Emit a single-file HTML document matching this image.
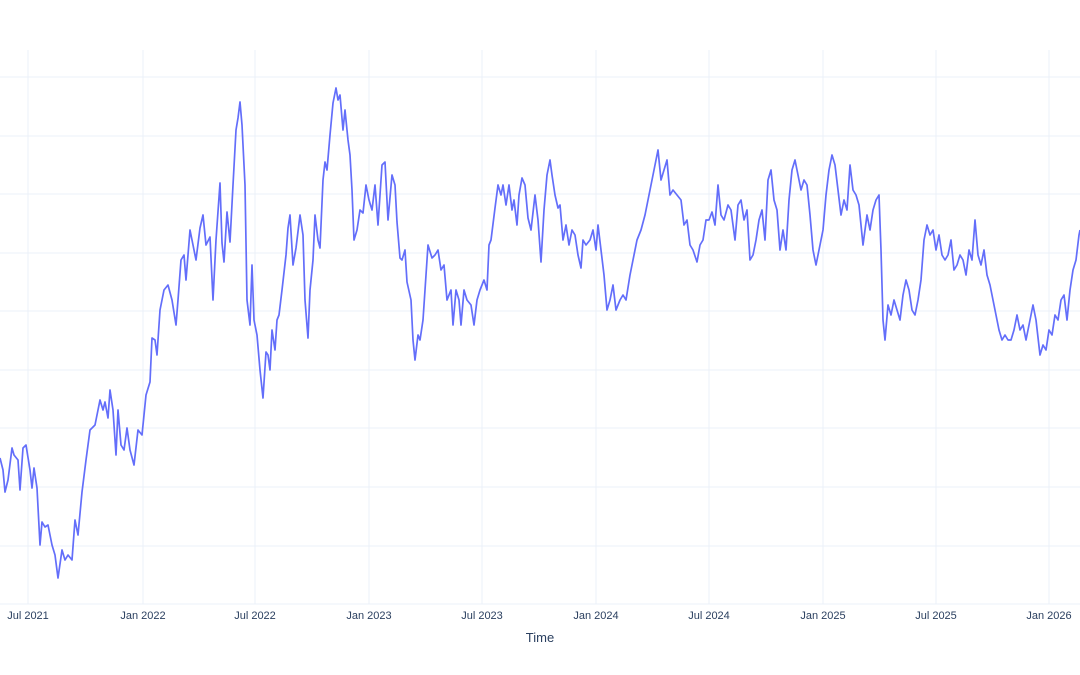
<!DOCTYPE html>
<html><head><meta charset="utf-8"><style>
html,body{margin:0;padding:0;background:#fff;}
svg{display:block;font-family:"Liberation Sans",sans-serif;}
</style></head><body>
<svg width="1080" height="675" viewBox="0 0 1080 675">
<rect width="1080" height="675" fill="#fff"/>
<g stroke="#ebf0f8" stroke-width="1">
<line x1="0" x2="1080" y1="77" y2="77"/><line x1="0" x2="1080" y1="136" y2="136"/>
<line x1="0" x2="1080" y1="194" y2="194"/><line x1="0" x2="1080" y1="253" y2="253"/>
<line x1="0" x2="1080" y1="311" y2="311"/><line x1="0" x2="1080" y1="370" y2="370"/>
<line x1="0" x2="1080" y1="428" y2="428"/><line x1="0" x2="1080" y1="487" y2="487"/>
<line x1="0" x2="1080" y1="546" y2="546"/><line x1="0" x2="1080" y1="604" y2="604"/>
<line y1="50" y2="604" x1="28" x2="28"/><line y1="50" y2="604" x1="143" x2="143"/>
<line y1="50" y2="604" x1="255" x2="255"/><line y1="50" y2="604" x1="369" x2="369"/>
<line y1="50" y2="604" x1="482" x2="482"/><line y1="50" y2="604" x1="596" x2="596"/>
<line y1="50" y2="604" x1="709" x2="709"/><line y1="50" y2="604" x1="823" x2="823"/>
<line y1="50" y2="604" x1="936" x2="936"/><line y1="50" y2="604" x1="1049" x2="1049"/>
</g>
<polyline fill="none" stroke="#636efa" stroke-width="1.7" stroke-linejoin="round" points="0,458 3,470 5,492 8,480 12,448 14,455 18,460 20,490 23,448 26,445 30,470 32,488 34,468 37,488 40,545 42,522 45,527 48,525 52,545 55,555 58,578 62,550 65,560 68,555 72,560 75,520 78,535 82,492 86,460 90,430 95,425 100,400 103,410 105,402 108,418 110,390 113,410 116,455 118,410 121,445 124,450 127,428 130,450 134,465 138,430 142,435 146,395 150,382 152,338 155,340 157,355 160,310 164,290 168,285 172,300 176,325 178,300 181,260 184,255 186,280 190,230 193,245 196,260 200,228 203,215 206,245 210,237 213,300 216,240 220,183 222,243 224,262 227,212 230,242 233,185 236,130 238,118 240,102 242,125 245,185 247,300 250,325 252,265 254,320 257,335 260,370 263,398 266,352 268,355 270,370 272,330 275,350 277,320 279,315 282,290 286,255 288,228 290,215 293,265 296,248 300,215 303,235 305,300 308,338 310,290 313,260 315,215 318,240 320,248 323,180 325,162 327,170 330,135 333,103 336,88 338,100 340,95 343,130 345,110 348,140 350,155 352,190 354,240 357,230 360,210 363,213 366,185 369,200 372,210 375,185 378,225 382,165 385,162 388,220 392,175 395,185 397,222 400,258 402,260 405,250 407,282 411,300 413,340 415,360 418,335 420,340 423,320 426,275 428,245 432,258 435,255 438,250 441,270 444,265 447,300 451,290 453,325 456,290 459,300 461,325 464,290 467,300 471,305 474,325 477,300 480,290 484,280 487,290 489,245 491,240 495,208 498,185 501,195 503,185 506,205 509,185 512,210 514,200 517,225 519,195 522,178 525,185 528,218 531,230 535,195 538,220 541,262 544,210 547,175 550,160 552,175 555,195 558,208 560,205 563,240 566,225 569,245 572,230 575,235 578,255 581,268 583,240 586,245 590,240 593,230 596,250 598,225 601,250 604,275 607,310 610,300 613,285 616,310 620,300 623,295 626,300 630,275 633,260 637,240 641,230 645,215 649,195 652,180 655,165 658,150 661,180 664,170 667,160 670,195 673,190 677,195 681,200 684,225 687,220 690,245 693,250 697,262 700,245 703,240 706,220 709,220 712,212 715,225 718,185 721,215 724,220 728,205 731,210 735,240 738,205 741,200 744,220 747,210 750,260 753,255 756,240 759,220 762,210 765,240 768,180 771,170 774,200 777,210 780,250 783,230 786,250 789,200 792,170 795,160 798,175 801,190 804,180 807,185 810,215 813,250 816,265 820,245 823,230 826,195 829,170 832,155 835,165 838,190 841,215 844,200 847,210 850,165 853,190 856,195 859,205 861,225 863,245 867,215 870,230 873,210 876,200 879,195 881,250 883,320 885,340 888,305 891,315 894,300 897,310 900,320 903,295 906,280 909,290 912,310 915,315 918,300 921,280 924,240 927,225 930,235 933,230 936,250 939,235 942,255 945,260 948,255 951,240 954,270 957,265 960,255 963,260 966,275 969,250 972,260 975,220 978,255 981,265 984,250 987,275 990,285 993,300 996,315 999,330 1002,340 1005,335 1008,340 1011,340 1014,330 1017,315 1020,330 1023,325 1026,340 1030,320 1033,305 1036,320 1040,355 1043,345 1046,350 1049,330 1052,335 1055,315 1058,320 1061,300 1064,295 1067,320 1070,290 1073,270 1076,260 1079,235 1080,230"/>
<g fill="#2a3f5f" font-size="11" text-anchor="middle">
<text x="28" y="619">Jul 2021</text><text x="143" y="619">Jan 2022</text>
<text x="255" y="619">Jul 2022</text><text x="369" y="619">Jan 2023</text>
<text x="482" y="619">Jul 2023</text><text x="596" y="619">Jan 2024</text>
<text x="709" y="619">Jul 2024</text><text x="823" y="619">Jan 2025</text>
<text x="936" y="619">Jul 2025</text><text x="1049" y="619">Jan 2026</text>
<text x="540" y="642" font-size="13">Time</text>
</g>
</svg>
</body></html>
